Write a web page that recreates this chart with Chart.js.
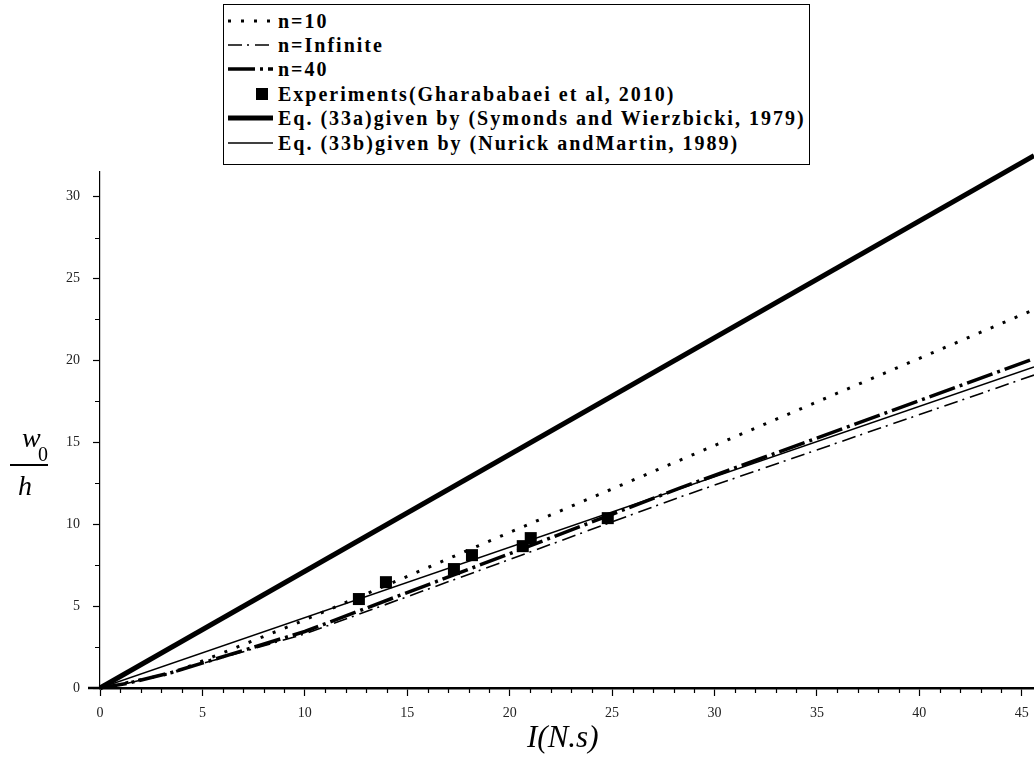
<!DOCTYPE html>
<html>
<head>
<meta charset="utf-8">
<script src="https://cdn.jsdelivr.net/npm/chart.js@4/dist/chart.umd.min.js"></script>
<style>
  html, body { margin: 0; padding: 0; background: #fff; }
  #wrap { position: relative; width: 1034px; height: 757px; overflow: hidden; }
  #plot { position: absolute; left: 0; top: 0; }
  .serif { font-family: "Liberation Serif", "Times New Roman", serif; color: #000; }
  #legend {
    position: absolute; left: 223px; top: 4px; width: 587px; height: 161px;
    border: 1px solid #000; background: #fff; box-sizing: border-box;
  }
  .row { position: absolute; left: 0; height: 24px; white-space: nowrap; }
  .row svg { position: absolute; left: 3px; top: 0; }
  .row span { position: absolute; left: 54px; top: 0px; font-weight: bold; font-size: 20px; letter-spacing: 2px; line-height: 24px; }
  .ttl { position: absolute; font-style: italic; }
</style>
</head>
<body>
<div id="wrap">
  <canvas id="plot" width="1034" height="757"></canvas>
  <div id="legend" class="serif"></div>
  <div class="serif ttl" style="left:22px; top:422px; font-size:28px;">w</div>
  <div class="serif" style="position:absolute; left:38px; top:443px; font-size:20px;">0</div>
  <div style="position:absolute; left:10px; top:464px; width:38px; height:2px; background:#000;"></div>
  <div class="serif ttl" style="left:18px; top:470px; font-size:28px;">h</div>
  <div class="serif ttl" style="left:527px; top:719px; font-size:31px;">I(N.s)</div>
</div>
<script>
// tick labels
const xTicks = [0, 5, 10, 15, 20, 25, 30, 35, 40, 45];
const yTicks = [0, 5, 10, 15, 20, 25, 30];

// n=10 (dotted)
const n10I = [0, 1.4, 3.5, 9.7, 14.6, 20, 28.3, 45.6];
const n10W = [0, 0.35, 0.9, 4.0, 6.6, 9.5, 13.9, 23.1];
// n=Infinite (dash dot)
const nInfI = [0, 1.4, 3.5, 10, 20, 28.3, 45.6];
const nInfW = [0, 0.3, 0.95, 3.3, 7.85, 11.65, 19.1];
// n=40 (dash)
const n40I = [0, 1.4, 3.5, 10, 20, 28.3, 45.6];
const n40W = [0, 0.3, 0.95, 3.45, 8.2, 12.2, 20.1];
// experiments
const expI = [12.64, 13.96, 17.28, 18.16, 20.64, 21.03, 24.79];
const expW = [5.43, 6.46, 7.26, 8.11, 8.66, 9.15, 10.37];
// Eq. (33a) and Eq. (33b)
const eqAI = [0, 45.6];
const eqAW = [0, 32.5];
const eqBI = [0, 45.6];
const eqBW = [0, 19.6];

const SERIF = '"Liberation Serif", "Times New Roman", serif';

function toXY(xs, ys) {
    return xs.map((v, i) => ({ x: v, y: ys[i] }));
}

function lineSet(label, xs, ys, width, dash, clip) {
    return {
        label: label,
        data: toXY(xs, ys),
        showLine: true,
        borderColor: '#000',
        backgroundColor: '#000',
        borderWidth: width,
        borderDash: dash,
        borderCapStyle: 'butt',
        pointRadius: 0,
        tension: 0,
        clip: clip
    };
}

const datasets = [
    lineSet('n=10', n10I, n10W, 3, [3, 10], undefined),
    lineSet('n=Infinite', nInfI, nInfW, 1.6, [14, 5, 2, 6], undefined),
    lineSet('n=40', n40I, n40W, 3.5, [27, 5, 3, 5], undefined),
    {
        label: 'Experiments(Gharababaei et al, 2010)',
        data: toXY(expI, expW),
        pointStyle: 'rect',
        pointRadius: 8.5,
        backgroundColor: '#000',
        borderColor: '#000',
        borderWidth: 0
    },
    lineSet('Eq. (33a)given by (Symonds and Wierzbicki, 1979)', eqAI, eqAW, 5, [], false),
    lineSet('Eq. (33b)given by (Nurick andMartin, 1989)', eqBI, eqBW, 1.6, [], undefined)
];

// minor ticks + x axis stub to the left of the origin
const axisExtras = {
    id: 'axisExtras',
    afterDraw(chart) {
        const { ctx, chartArea, scales } = chart;
        const x = scales.x, y = scales.y;
        ctx.save();
        ctx.strokeStyle = '#000';
        ctx.lineWidth = 1.2;
        ctx.beginPath();
        for (let v = 1; v < x.max; v += 1) {
            if (v % 5 === 0) continue;
            const px = Math.round(x.getPixelForValue(v)) + 0.5;
            ctx.moveTo(px, chartArea.bottom);
            ctx.lineTo(px, chartArea.bottom + 5);
        }
        for (let v = 2.5; v < y.max; v += 5) {
            const py = Math.round(y.getPixelForValue(v)) + 0.5;
            ctx.moveTo(chartArea.left, py);
            ctx.lineTo(chartArea.left - 5, py);
        }
        ctx.stroke();
        ctx.lineWidth = 2.5;
        ctx.beginPath();
        ctx.moveTo(chartArea.left - 12, chartArea.bottom);
        ctx.lineTo(chartArea.left, chartArea.bottom);
        ctx.stroke();
        ctx.restore();
    }
};

const chart = new Chart(document.getElementById('plot'), {
    type: 'scatter',
    data: { datasets: datasets },
    options: {
        responsive: false,
        animation: false,
        layout: { autoPadding: false, padding: { top: 172, right: 0, bottom: 0, left: 0 } },
        plugins: { legend: { display: false }, tooltip: { enabled: false } },
        scales: {
            x: {
                type: 'linear',
                min: 0,
                max: 45.6,
                afterFit: s => { s.height = 69; s.paddingLeft = 0; s.paddingRight = 0; },
                afterBuildTicks: s => { s.ticks = xTicks.map(v => ({ value: v })); },
                border: { display: true, color: '#000', width: 2.5 },
                grid: { drawOnChartArea: false, drawTicks: true, tickLength: 8, tickColor: '#000', tickWidth: 1.2 },
                ticks: { color: '#222', padding: 9, maxRotation: 0, font: { family: SERIF, size: 14 } }
            },
            y: {
                type: 'linear',
                min: 0,
                max: 31.5,
                afterFit: s => { s.width = 100; },
                afterBuildTicks: s => { s.ticks = yTicks.map(v => ({ value: v })); },
                border: { display: true, color: '#000', width: 1.2 },
                grid: { drawOnChartArea: false, drawTicks: true, tickLength: 7, tickColor: '#000', tickWidth: 1.2 },
                ticks: { color: '#222', padding: 13, font: { family: SERIF, size: 14 } }
            }
        }
    },
    plugins: [axisExtras]
});

// legend built from the datasets
function buildLegend() {
    const box = document.getElementById('legend');
    const rowTops = [4, 28, 52, 77, 101, 126];
    datasets.forEach((ds, i) => {
        const row = document.createElement('div');
        row.className = 'row';
        row.style.top = rowTops[i] + 'px';
        let sample;
        if (ds.showLine) {
            const dash = (ds.borderDash || []).join(' ');
            sample = `<svg width="46" height="24"><line x1="1" y1="12" x2="46" y2="12" stroke="#000" stroke-width="${ds.borderWidth}" stroke-dasharray="${dash}"/></svg>`;
        } else {
            sample = `<svg width="46" height="24"><rect x="29" y="6" width="12" height="12" fill="#000"/></svg>`;
        }
        row.innerHTML = sample + `<span>${ds.label}</span>`;
        box.appendChild(row);
    });
}
buildLegend();
</script>
</body>
</html>
